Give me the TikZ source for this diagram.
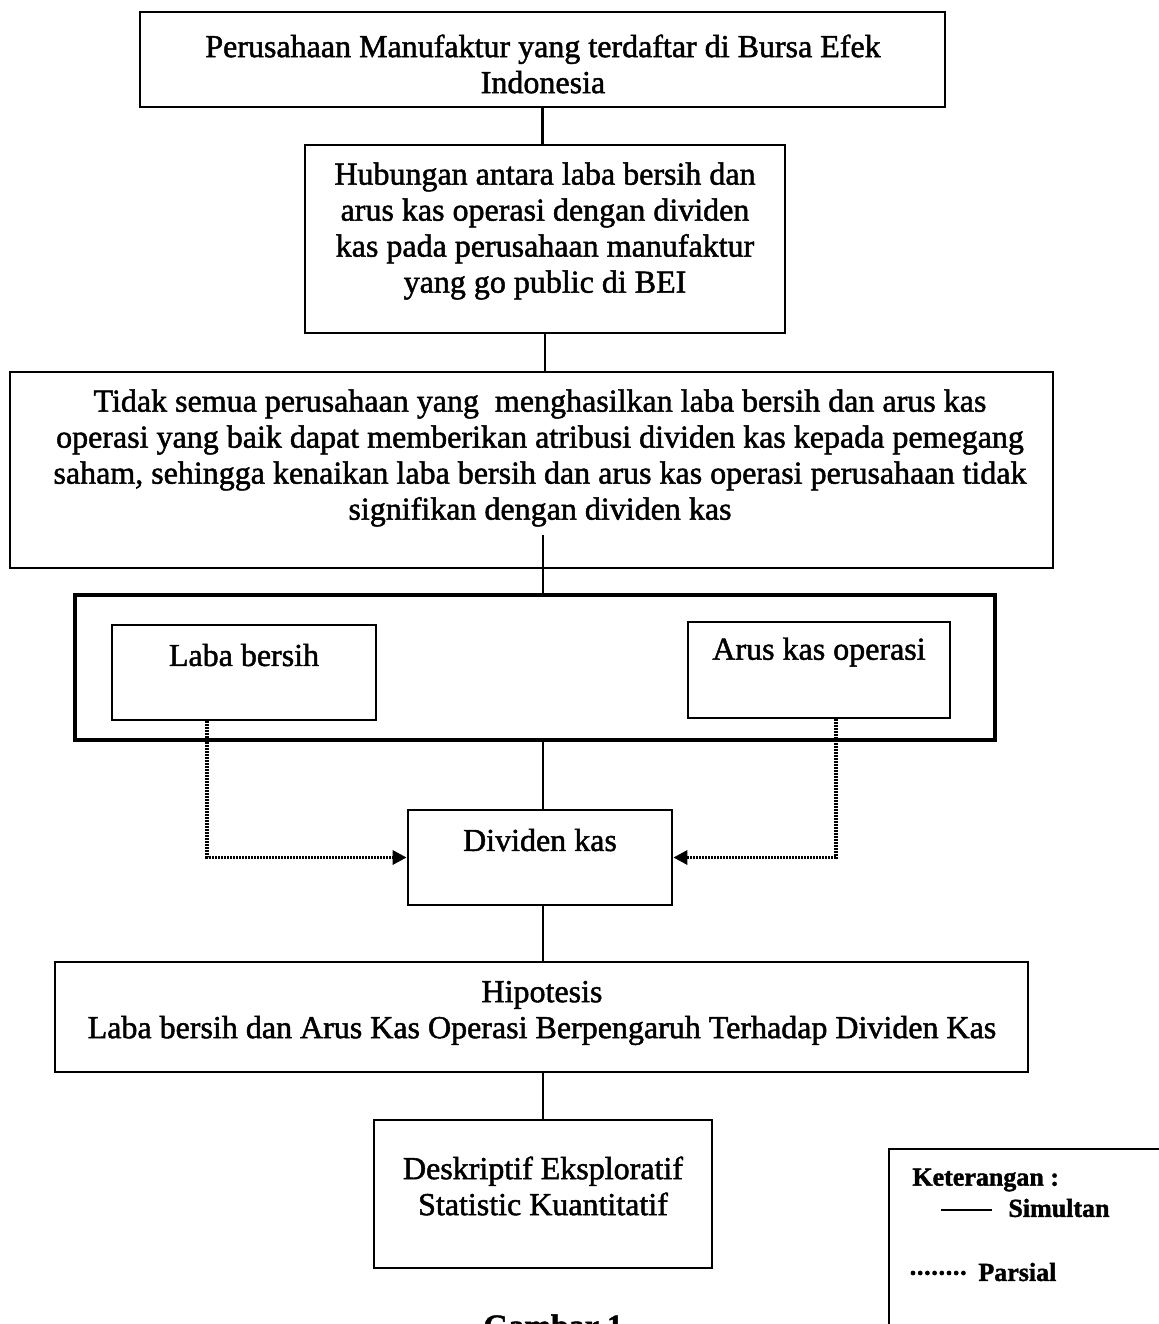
\documentclass[tikz,border=0pt]{standalone}
\usepackage{fontspec}
\setmainfont[FakeBold=1.5]{Liberation Serif}
\usetikzlibrary{arrows.meta,fit}
\begin{document}
\begin{tikzpicture}[x=0.5pt,y=-0.5pt,
  box/.style={draw, line width=1.4pt, inner sep=0pt, rectangle},
  txt/.style={align=center, font=\fontsize{16}{18}\selectfont, inner sep=0pt},
  legtxt/.style={font=\fontsize{13}{15}\selectfont\bfseries, inner sep=0pt, anchor=west},
  conn/.style={line width=1.4pt},
  part/.style={line width=1.6pt, dash pattern=on 1pt off 0.5pt, -{Triangle[length=7pt,width=7pt]}}
]
\useasboundingbox (0,0) rectangle (1159,1324);
\fill[white] (0,0) rectangle (1159,1324);

% boxes
\node[box, fit={(140,12) (945,107)}] (b1) {};
\node[box, fit={(305,145) (785,333)}] (b2) {};
\node[box, fit={(10,372) (1053,568)}] (b3) {};
\node[box, line width=2.2pt, fit={(75,595) (995,740)}] (b4) {};
\node[box, fit={(112,625) (376,720)}] (lb) {};
\node[box, fit={(688,622) (950,718)}] (ak) {};
\node[box, fit={(408,810) (672,905)}] (dk) {};
\node[box, fit={(55,962) (1028,1072)}] (hp) {};
\node[box, fit={(374,1120) (712,1268)}] (ds) {};
\node[box, fit={(889,1149) (1220,1380)}] (leg) {};

% texts
\node[txt] (t1) at (543,64) {Perusahaan Manufaktur yang terdaftar di Bursa Efek\\Indonesia};
\node[txt] (t2) at (545,231) {Hubungan antara laba bersih dan\\arus kas operasi dengan dividen\\kas pada perusahaan manufaktur\\yang go public di BEI};
\node[txt] (t3) at (540,458) {Tidak semua perusahaan yang\ \ menghasilkan laba bersih dan arus kas\\operasi yang baik dapat memberikan atribusi dividen kas kepada pemegang\\saham, sehingga kenaikan laba bersih dan arus kas operasi perusahaan tidak\\signifikan dengan dividen kas};
\node[txt] (t4) at (244,655) {Laba bersih};
\node[txt] (t5) at (819,652) {Arus kas operasi};
\node[txt] (t6) at (540,840) {Dividen kas};
\node[txt] (t7) at (542,1013) {Hipotesis\\Laba bersih dan Arus Kas Operasi Berpengaruh Terhadap Dividen Kas};
\node[txt] (t8) at (543,1186) {Deskriptif Eksploratif\\Statistic Kuantitatif};

% legend
\node[legtxt] (k1) at (912,1180) {Keterangan :};
\coordinate (s1) at (941,1210);
\coordinate (s2) at (992,1210);
\draw[line width=1.4pt] (s1) -- (s2);
\node[legtxt] (k2) at (1008,1208) {Simultan};
\coordinate (d1) at (913,1273);
\coordinate (d2) at (965,1273);
\draw[line width=2.4pt, line cap=round, dash pattern=on 0pt off 3.6pt] (d1) -- (d2);
\node[legtxt] (k3) at (978,1272) {Parsial};

% caption (cut by page edge, as in the reference)
\node[font=\fontsize{16}{18}\selectfont\bfseries, inner sep=0pt, anchor=north west] (cap) at (483,1314) {Gambar 1};

% connectors
\draw[conn] (b1.south) -- (b1.south |- b2.north);
\draw[conn] (b2.south) -- (b2.south |- b3.north);
\coordinate (c3) at (543,535);
\draw[conn] (c3) -- (c3 |- b4.north);
\draw[conn] (dk.north -| 543,0) -- (543,740);
\draw[conn] (dk.south -| 543,0) -- (hp.north -| 543,0);
\draw[conn] (hp.south -| 543,0) -- (ds.north -| 543,0);

% partial (dotted) arrows
\draw[part] ([xshift=-18.5pt]lb.south) |- (dk.west);
\draw[part] ([xshift=8.5pt]ak.south) |- (dk.east);
\end{tikzpicture}
\end{document}
